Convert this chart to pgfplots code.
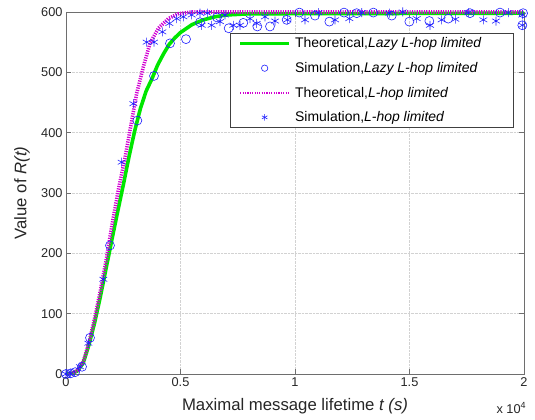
\documentclass[border=0pt]{standalone}
\usepackage{pgfplots}
\pgfplotsset{compat=1.18}
\usepackage{fontspec}
\setmainfont{Liberation Sans}
\definecolor{mgreen}{RGB}{0,230,0}
\definecolor{mmag}{RGB}{210,0,210}
\definecolor{mblue}{RGB}{30,30,255}
\definecolor{axgray}{RGB}{110,110,110}
\pgfplotsset{
  lineleg/.style={legend image code/.code={\path[draw=none,fill=none] (0bp,-6bp) rectangle (63bp,6bp); \draw[##1, line width=2.4pt] (10bp,0bp) -- (59bp,0bp);}},
  markleg/.style={legend image code/.code={\path[draw=none,fill=none] (0bp,-6bp) rectangle (63bp,6bp); \draw[##1, mark size=3.2bp] plot coordinates {(34.5bp,0bp)};}},
}
\begin{document}
\begin{tikzpicture}
\begin{axis}[
  scale only axis,
  width=458bp, height=362bp,
  xmin=0, xmax=20000, ymin=0, ymax=600,
  xtick={0,5000,10000,15000,20000},
  xticklabels={0,0.5,1,1.5,2},
  ytick={0,100,...,600},
  scaled x ticks=false,
  tick align=inside,
  axis line style={axgray, line width=0.9pt},
  tick style={axgray, line width=0.8pt},
  major tick length=5bp,
  grid=major,
  grid style={densely dotted, gray!35, line width=0.5pt},
  /pgf/number format/assume math mode=true,
  ticklabel style={font=\fontsize{12.8}{14}\selectfont, text=black!85},
  xlabel={Maximal message lifetime \textit{t (s)}},
  ylabel={Value of \textit{R(t)}},
  label style={font=\fontsize{16.8}{18}\selectfont, text=black!85},
  xlabel style={at={(axis description cs:0.5,-0.088)}, anchor=center},
  ylabel style={at={(axis description cs:-0.096,0.5)}, anchor=center},
  clip=false,
  legend style={at={(0.978,0.942)}, anchor=north east, draw=black!75, line width=0.7pt,
    font=\fontsize{14}{16}\selectfont, cells={anchor=west}, inner xsep=0bp, inner ysep=2.5bp, row sep=9bp},
]
\addplot[mgreen, line width=3.6pt, lineleg] coordinates {
(0,0) (250,1) (500,5) (750,18) (1000,48) (1250,85) (1500,128) (1750,175) (2000,222) (2250,268) (2500,313) (2750,360) (3000,403) (3250,440) (3500,469) (3750,489) (4000,512) (4250,530) (4500,546) (4750,557) (5000,566) (5500,579) (6000,587) (6500,592) (7000,595) (8000,597) (20000,598)
};
\addlegendentry{Theoretical,\textit{Lazy L-hop limited}\rule{30bp}{0pt}}
\addplot[only marks, mark=o, mark size=4.5bp, mblue, mark options={line width=0.6pt}, markleg] coordinates {
(0,0) (200,1) (400,3) (700,12) (1048,60) (1921,213) (3114,420) (3843,494) (4541,548) (5240,555) (5852,583) (6594,591) (7104,573) (7743,582) (8354,576) (8908,576) (9636,587) (10190,599) (10873,594) (11500,584) (12140,599) (12694,598) (13420,599) (14223,594) (14993,584) (15866,585) (16694,589) (17642,598) (18952,599) (19926,578) (19960,598)
};
\addlegendentry{Simulation,\textit{Lazy L-hop limited}}
\addplot[mmag, line width=3.6pt, dash pattern=on 1.2pt off 1.2pt, lineleg] coordinates {
(0,0) (250,1) (500,6) (750,20) (1000,52) (1250,92) (1500,138) (1750,188) (2000,245) (2285,305) (2576,358) (2867,419) (3086,465) (3377,509) (3668,548) (4032,573) (4469,589) (4905,597) (5500,600) (20000,600)
};
\addlegendentry{Theoretical,\textit{L-hop limited}}
\addplot[only marks, mark=asterisk, mark size=4.5bp, mblue, mark options={line width=0.6pt}, markleg] coordinates {
(0,0) (200,1) (611,12) (975,51) (1630,157) (2431,351) (2940,448) (3523,550) (3843,550) (4207,567) (4512,581) (4833,589) (5123,592) (5488,595) (5852,598) (5924,578) (6172,598) (6361,578) (6725,584) (6943,595) (7307,578) (7598,578) (8035,589) (8326,581) (8690,592) (9127,585) (9664,587) (10437,587) (11019,599) (11747,587) (12371,589) (12913,599) (14118,598) (14703,600) (15313,589) (15895,578) (16405,587) (17000,588) (17569,599) (18224,587) (18777,585) (19315,599) (19926,595) (19926,578)
};
\addlegendentry{Simulation,\textit{L-hop limited}}
\node[anchor=east, font=\fontsize{12.8}{14}\selectfont, text=black!85, inner sep=0pt] at (axis description cs:1.005,-0.094) {x 10\textsuperscript{4}};
\path (axis description cs:-0.1441,-0.1271) rectangle (axis description cs:1.024,1.0331);
\end{axis}
\end{tikzpicture}
\end{document}
